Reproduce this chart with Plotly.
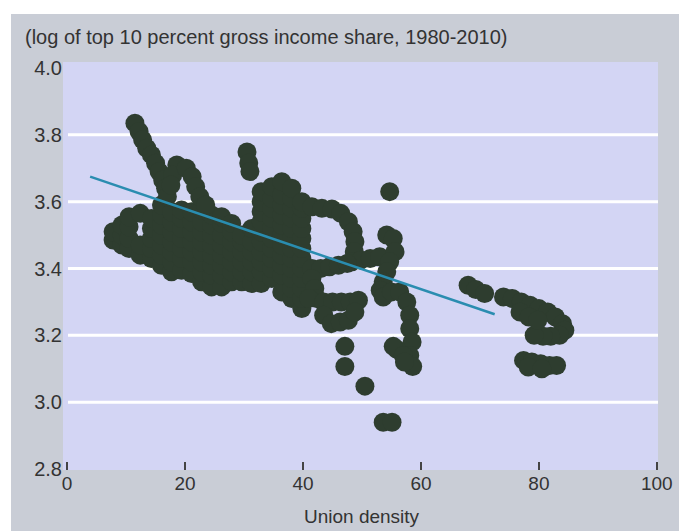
import plotly.graph_objects as go

# ---------------- data ----------------
# main left blob + middle cluster, column by column
blob_cols_x = [7.8, 9.3, 10.5, 12.4, 14.3, 16.0, 17.7, 19.4, 21.1, 22.8, 24.5, 26.2,
               27.9, 29.6, 31.3, 32.9, 34.7, 36.4, 38.1, 39.8]
blob_cols_y = [
    [3.485, 3.51],
    [3.47, 3.50, 3.53],
    [3.46, 3.49, 3.525, 3.555],
    [3.44, 3.47, 3.565],
    [3.43, 3.46, 3.49, 3.52, 3.55],
    [3.41, 3.44, 3.47, 3.50, 3.53, 3.56, 3.59],
    [3.39, 3.42, 3.45, 3.48, 3.51, 3.54, 3.57],
    [3.395, 3.43, 3.46, 3.49, 3.52, 3.55, 3.575],
    [3.385, 3.42, 3.45, 3.48, 3.51, 3.54, 3.57],
    [3.36, 3.39, 3.42, 3.45, 3.48, 3.51, 3.54, 3.575],
    [3.345, 3.38, 3.41, 3.44, 3.47, 3.50, 3.53, 3.56],
    [3.345, 3.38, 3.41, 3.44, 3.47, 3.50, 3.535, 3.555],
    [3.36, 3.39, 3.42, 3.45, 3.48, 3.51, 3.535],
    [3.36, 3.39, 3.42, 3.45, 3.48, 3.50],
    [3.355, 3.39, 3.42, 3.45, 3.48, 3.52],
    [3.355, 3.39, 3.42, 3.45, 3.48, 3.51, 3.54, 3.57, 3.60, 3.63],
    [3.37, 3.40, 3.43, 3.46, 3.49, 3.52, 3.55, 3.58, 3.61, 3.645],
    [3.33, 3.38, 3.41, 3.44, 3.47, 3.50, 3.53, 3.56, 3.59, 3.62, 3.66],
    [3.31, 3.34, 3.37, 3.40, 3.43, 3.46, 3.49, 3.52, 3.55, 3.58, 3.61, 3.64],
    [3.28, 3.31, 3.34, 3.37, 3.40, 3.43, 3.46, 3.49, 3.52, 3.55, 3.58, 3.60],
]

finger1_x = [11.5, 12.2, 12.8, 13.5, 14.3, 15.0, 15.6, 16.2, 16.7, 17.0]
finger1_y = [3.835, 3.81, 3.785, 3.76, 3.74, 3.715, 3.69, 3.665, 3.64, 3.615]

finger2_x = [18.6, 17.9, 17.6, 20.2, 21.2, 21.8, 22.5, 23.5]
finger2_y = [3.71, 3.68, 3.65, 3.70, 3.675, 3.645, 3.615, 3.59]

small_blob_x = [30.5, 30.8, 31.0]
small_blob_y = [3.749, 3.716, 3.69]

arc_x = [41.5, 43.2, 44.9, 46.4, 47.7, 48.5, 48.8, 48.7, 48.3, 49.8, 51.4, 53.0,
         41.5, 43.0, 44.5, 46.0, 47.5, 41.5, 42.0, 42.3, 41.0]
arc_y = [3.585, 3.58, 3.578, 3.565, 3.54, 3.51, 3.48, 3.45, 3.42, 3.425, 3.43, 3.435,
         3.40, 3.40, 3.405, 3.41, 3.415, 3.37, 3.34, 3.31, 3.31]

arm_x = [43.5, 45.0, 46.5, 48.0, 49.4, 43.5, 44.8, 46.3, 47.7, 48.8]
arm_y = [3.30, 3.30, 3.30, 3.30, 3.305, 3.26, 3.235, 3.24, 3.245, 3.27]

column_x = [54.2, 55.3, 55.6, 54.7, 54.2, 53.6, 53.1, 53.6, 55.0, 56.4, 57.6, 58.1,
            58.1, 58.5, 58.1, 58.6, 55.9, 55.3, 57.0, 57.2]
column_y = [3.50, 3.49, 3.45, 3.42, 3.39, 3.36, 3.335, 3.315, 3.33, 3.33, 3.30, 3.26,
            3.22, 3.18, 3.14, 3.107, 3.158, 3.167, 3.14, 3.12]

isolated_x = [54.7, 47.1, 47.1, 50.5, 53.6, 55.1]
isolated_y = [3.63, 3.167, 3.107, 3.048, 2.94, 2.94]

right_x = [68.0, 69.3, 70.8,
           74.0, 75.5, 77.0, 78.5, 80.0, 81.5, 82.8, 84.0, 84.4, 83.5, 82.0, 80.7, 79.2,
           76.8, 78.3, 79.8,
           77.4, 78.8, 80.3, 81.8, 83.0, 78.2, 80.5]
right_y = [3.35, 3.337, 3.325,
           3.315, 3.31, 3.30, 3.29, 3.28, 3.27, 3.255, 3.235, 3.215, 3.20, 3.197, 3.197, 3.20,
           3.27, 3.255, 3.245,
           3.125, 3.12, 3.115, 3.11, 3.11, 3.105, 3.10]

trend_x = [3.9, 72.5]
trend_y = [3.675, 3.263]

x_ticks = [0, 20, 40, 60, 80, 100]
y_ticks = [2.8, 3.0, 3.2, 3.4, 3.6, 3.8, 4.0]
grid_vals = [3.0, 3.2, 3.4, 3.6, 3.8]

# ---------------- assemble ----------------
xs, ys = [], []
for cx, col in zip(blob_cols_x, blob_cols_y):
    for v in col:
        xs.append(cx)
        ys.append(v)
for gx, gy in [(finger1_x, finger1_y), (finger2_x, finger2_y), (small_blob_x, small_blob_y),
               (arc_x, arc_y), (arm_x, arm_y), (column_x, column_y),
               (isolated_x, isolated_y), (right_x, right_y)]:
    xs += gx
    ys += gy

PANEL = "#c9cdd6"
PLOT_BG = "#d3d5f4"
DOT = "#2e3d2f"
LINE = "#2a8db0"
TXT = "#333333"
FONT = "Liberation Sans, Arial, sans-serif"

fig = go.Figure()
fig.add_trace(go.Scatter(x=xs, y=ys, mode="markers",
                         marker=dict(size=19, color=DOT, line=dict(width=0)),
                         hoverinfo="skip", showlegend=False))
fig.add_trace(go.Scatter(x=trend_x, y=trend_y, mode="lines",
                         line=dict(color=LINE, width=2.5),
                         hoverinfo="skip", showlegend=False))

W, H = 679, 531
L, R, T, B = 63, 21, 62, 61
pw, ph = W - L - R, H - T - B

shapes = []
# white strips outside the grey panel
shapes.append(dict(type="rect", xref="paper", yref="paper", layer="below",
                   x0=-L / pw, x1=(11 - L) / pw, y0=-B / ph - 0.01, y1=1 + T / ph + 0.01,
                   fillcolor="white", line=dict(width=0)))
shapes.append(dict(type="rect", xref="paper", yref="paper", layer="below",
                   x0=-L / pw, x1=1 + R / pw + 0.01, y0=1 + (T - 14) / ph, y1=1 + T / ph + 0.01,
                   fillcolor="white", line=dict(width=0)))
for g in grid_vals:
    shapes.append(dict(type="line", xref="paper", yref="y", layer="below",
                       x0=5 / pw, x1=1, y0=g, y1=g,
                       line=dict(color="white", width=3)))

fig.update_layout(
    width=W, height=H,
    margin=dict(l=L, r=R, t=T, b=B, autoexpand=False),
    paper_bgcolor=PANEL,
    plot_bgcolor=PLOT_BG,
    shapes=shapes,
    font=dict(family=FONT, color=TXT, size=19),
    title=dict(text="(log of top 10 percent gross income share, 1980-2010)",
               font=dict(family=FONT, size=20, color=TXT),
               x=25 / W, xanchor="left", xref="container",
               y=1 - 37 / H, yanchor="middle", yref="container"),
    xaxis=dict(range=[-0.7, 100.2], tickvals=x_ticks, ticktext=[str(v) for v in x_ticks],
               showgrid=False, zeroline=False, showline=False, automargin=False,
               ticks="inside", ticklen=8, tickwidth=2, tickcolor="#444444",
               tickfont=dict(size=19, color=TXT), fixedrange=True),
    yaxis=dict(range=[2.797, 4.018], tickvals=y_ticks,
               ticktext=[f"{v:.1f}" for v in y_ticks], automargin=False,
               showgrid=False, zeroline=False, showline=False, ticks="",
               tickfont=dict(size=20, color=TXT), fixedrange=True),
    annotations=[dict(text="Union density", xref="x", yref="paper",
                      x=50, y=-(516 - (H - B)) / ph, xanchor="center", yanchor="middle",
                      showarrow=False, font=dict(size=19, color=TXT))],
)

fig.write_html("out.html")
